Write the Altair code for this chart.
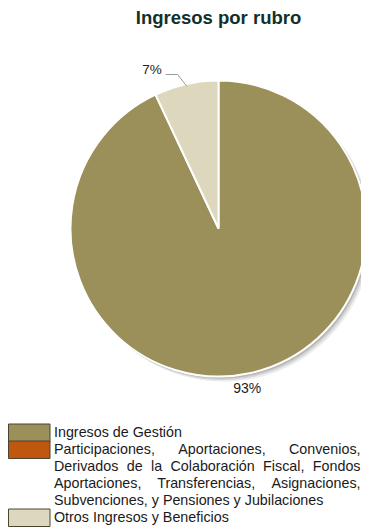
import altair as alt
import pandas as pd

categories = [
    "Ingresos de Gestión",
    "Participaciones, Aportaciones, Convenios, Derivados de la Colaboración Fiscal, Fondos Aportaciones, Transferencias, Asignaciones, Subvenciones, y Pensiones y Jubilaciones",
    "Otros Ingresos y Beneficios",
]
values = [93, 0, 7]
colors = ["#9b9059", "#c0570f", "#ddd8bd"]
legend_lines = [
    ["Ingresos de Gestión"],
    ["Participaciones, Aportaciones, Convenios,",
     "Derivados de la Colaboración Fiscal, Fondos",
     "Aportaciones, Transferencias, Asignaciones,",
     "Subvenciones, y Pensiones y Jubilaciones"],
    ["Otros Ingresos y Beneficios"],
]

W, H = 353, 521
CX, CY, R = 210.5, 220.5, 148
FONT = "Liberation Sans"
LEG_FS = 14.3

# Arial / Liberation Sans advance widths (per 1000 em) for justifying legend text
AW = {" ": 278, ",": 278, ".": 278,
      "a": 556, "b": 556, "c": 500, "d": 556, "e": 556, "f": 278, "g": 556, "h": 556,
      "i": 222, "j": 222, "k": 500, "l": 222, "m": 833, "n": 556, "o": 556, "p": 556,
      "q": 556, "r": 333, "s": 500, "t": 278, "u": 556, "v": 500, "w": 722, "x": 500,
      "y": 500, "z": 500, "ó": 556,
      "A": 667, "B": 667, "C": 722, "D": 722, "E": 667, "F": 611, "G": 778, "I": 278,
      "J": 500, "O": 778, "P": 667, "S": 667, "T": 611}


def tw(s):
    return sum(AW.get(ch, 556) for ch in s) * LEG_FS / 1000.0


df = pd.DataFrame({"category": categories, "value": values, "order": range(len(values))})

color_scale = alt.Scale(domain=categories, range=colors)

base = alt.Chart(df).transform_window(
    cum="sum(value)", sort=[alt.SortField("order")], frame=[None, 0]
).transform_joinaggregate(total="sum(value)").transform_calculate(
    mid="2*PI*(datum.cum - datum.value/2)/datum.total",
    pct="round(100*datum.value/datum.total) + '%'",
)


def shadow_layer(off, op):
    return alt.Chart(df).mark_arc(radius=R, color="#7a7a7a", opacity=op).encode(
        theta=alt.Theta("value:Q", stack=True),
        order=alt.Order("order:Q"),
        x=alt.value(CX + off), y=alt.value(CY + off),
    )


shadows = [shadow_layer(5, 0.14), shadow_layer(3.5, 0.2), shadow_layer(2, 0.32)]

pie = alt.Chart(df).transform_filter("datum.value > 0").mark_arc(
    radius=R, stroke="white", strokeWidth=2
).encode(
    theta=alt.Theta("value:Q", stack=True),
    order=alt.Order("order:Q"),
    color=alt.Color("category:N", scale=color_scale, legend=None),
    x=alt.value(CX), y=alt.value(CY),
)

# leader for small slices
leader = base.transform_filter("datum.value > 0 && datum.value < 20").transform_calculate(
    ex=f"{CX} + {R - 2}*sin(datum.mid)", ey=f"{CY} - {R - 2}*cos(datum.mid)",
    bx=f"{CX} + {R - 2}*sin(datum.mid) - 9", by=f"{CY} - {R - 2}*cos(datum.mid) - 11.5",
    hx=f"{CX} + {R - 2}*sin(datum.mid) - 21",
    ty=f"{CY} - {R - 2}*cos(datum.mid) - 16",
)
leader1 = leader.mark_rule(color="#9a9a9a", strokeWidth=1).encode(
    x=alt.X("ex:Q", scale=None), y=alt.Y("ey:Q", scale=None),
    x2="bx:Q", y2="by:Q",
)
leader2 = leader.mark_rule(color="#9a9a9a", strokeWidth=1).encode(
    x=alt.X("bx:Q", scale=None), y=alt.Y("by:Q", scale=None),
    x2="hx:Q", y2="by:Q",
)
small_label = leader.mark_text(align="right", baseline="middle", font=FONT, fontSize=13.5,
                               color="#222", dx=-4).encode(
    x=alt.X("hx:Q", scale=None), y=alt.Y("ty:Q", scale=None), text="pct:N",
)
big_label = base.transform_filter("datum.value >= 20").transform_calculate(
    lx=f"{CX} + {R + 16}*sin(datum.mid) - 7", ly=f"{CY} - {R + 16}*cos(datum.mid)",
).mark_text(align="center", baseline="middle", font=FONT, fontSize=14, color="#222").encode(
    x=alt.X("lx:Q", scale=None), y=alt.Y("ly:Q", scale=None), text="pct:N",
)

title = alt.Chart(pd.DataFrame({"t": ["Ingresos por rubro"]})).mark_text(
    align="center", baseline="middle", font=FONT, fontSize=18.5, fontWeight="bold", color="#12302b"
).encode(x=alt.value(CX), y=alt.value(10), text="t:N")

# legend
LEG_TOP, ROW = 416, 17
TX0, TX1 = 46, 352.5
boxes = []
words = []
r = 0
for cat, col, lines in zip(categories, colors, legend_lines):
    boxes.append({"category": cat, "y0": LEG_TOP + r * ROW, "y1": LEG_TOP + (r + 1) * ROW + 0.5})
    for li, ln in enumerate(lines):
        yc = LEG_TOP + r * ROW + ROW / 2
        justify = len(lines) > 1 and li < len(lines) - 1
        if justify:
            ws = ln.split(" ")
            widths = [tw(w) for w in ws]
            gap = (TX1 - TX0 - sum(widths)) / (len(ws) - 1)
            x = TX0
            for w, wd in zip(ws, widths):
                words.append({"word": w, "x": x, "yc": yc})
                x += wd + gap
        else:
            words.append({"word": ln, "x": TX0, "yc": yc})
        r += 1
box_df = pd.DataFrame(boxes)
word_df = pd.DataFrame(words)

leg_boxes = alt.Chart(box_df).mark_rect(stroke="#4a4530", strokeWidth=1).encode(
    x=alt.value(0.5), x2=alt.value(42),
    y=alt.Y("y0:Q", scale=None), y2="y1:Q",
    color=alt.Color("category:N", scale=color_scale, legend=None),
)
leg_text = alt.Chart(word_df).mark_text(align="left", baseline="middle", font=FONT,
                                        fontSize=LEG_FS, color="#1a1a1a").encode(
    x=alt.X("x:Q", scale=None), y=alt.Y("yc:Q", scale=None), text="word:N",
)

chart = alt.layer(*shadows, pie, leader1, leader2, small_label, big_label, title,
                  leg_boxes, leg_text).properties(
    width=W, height=H, padding=0, autosize=alt.AutoSizeParams(type="none")
).configure_view(stroke=None)

chart.save("out.html", embed_options={"renderer": "svg", "actions": False})
